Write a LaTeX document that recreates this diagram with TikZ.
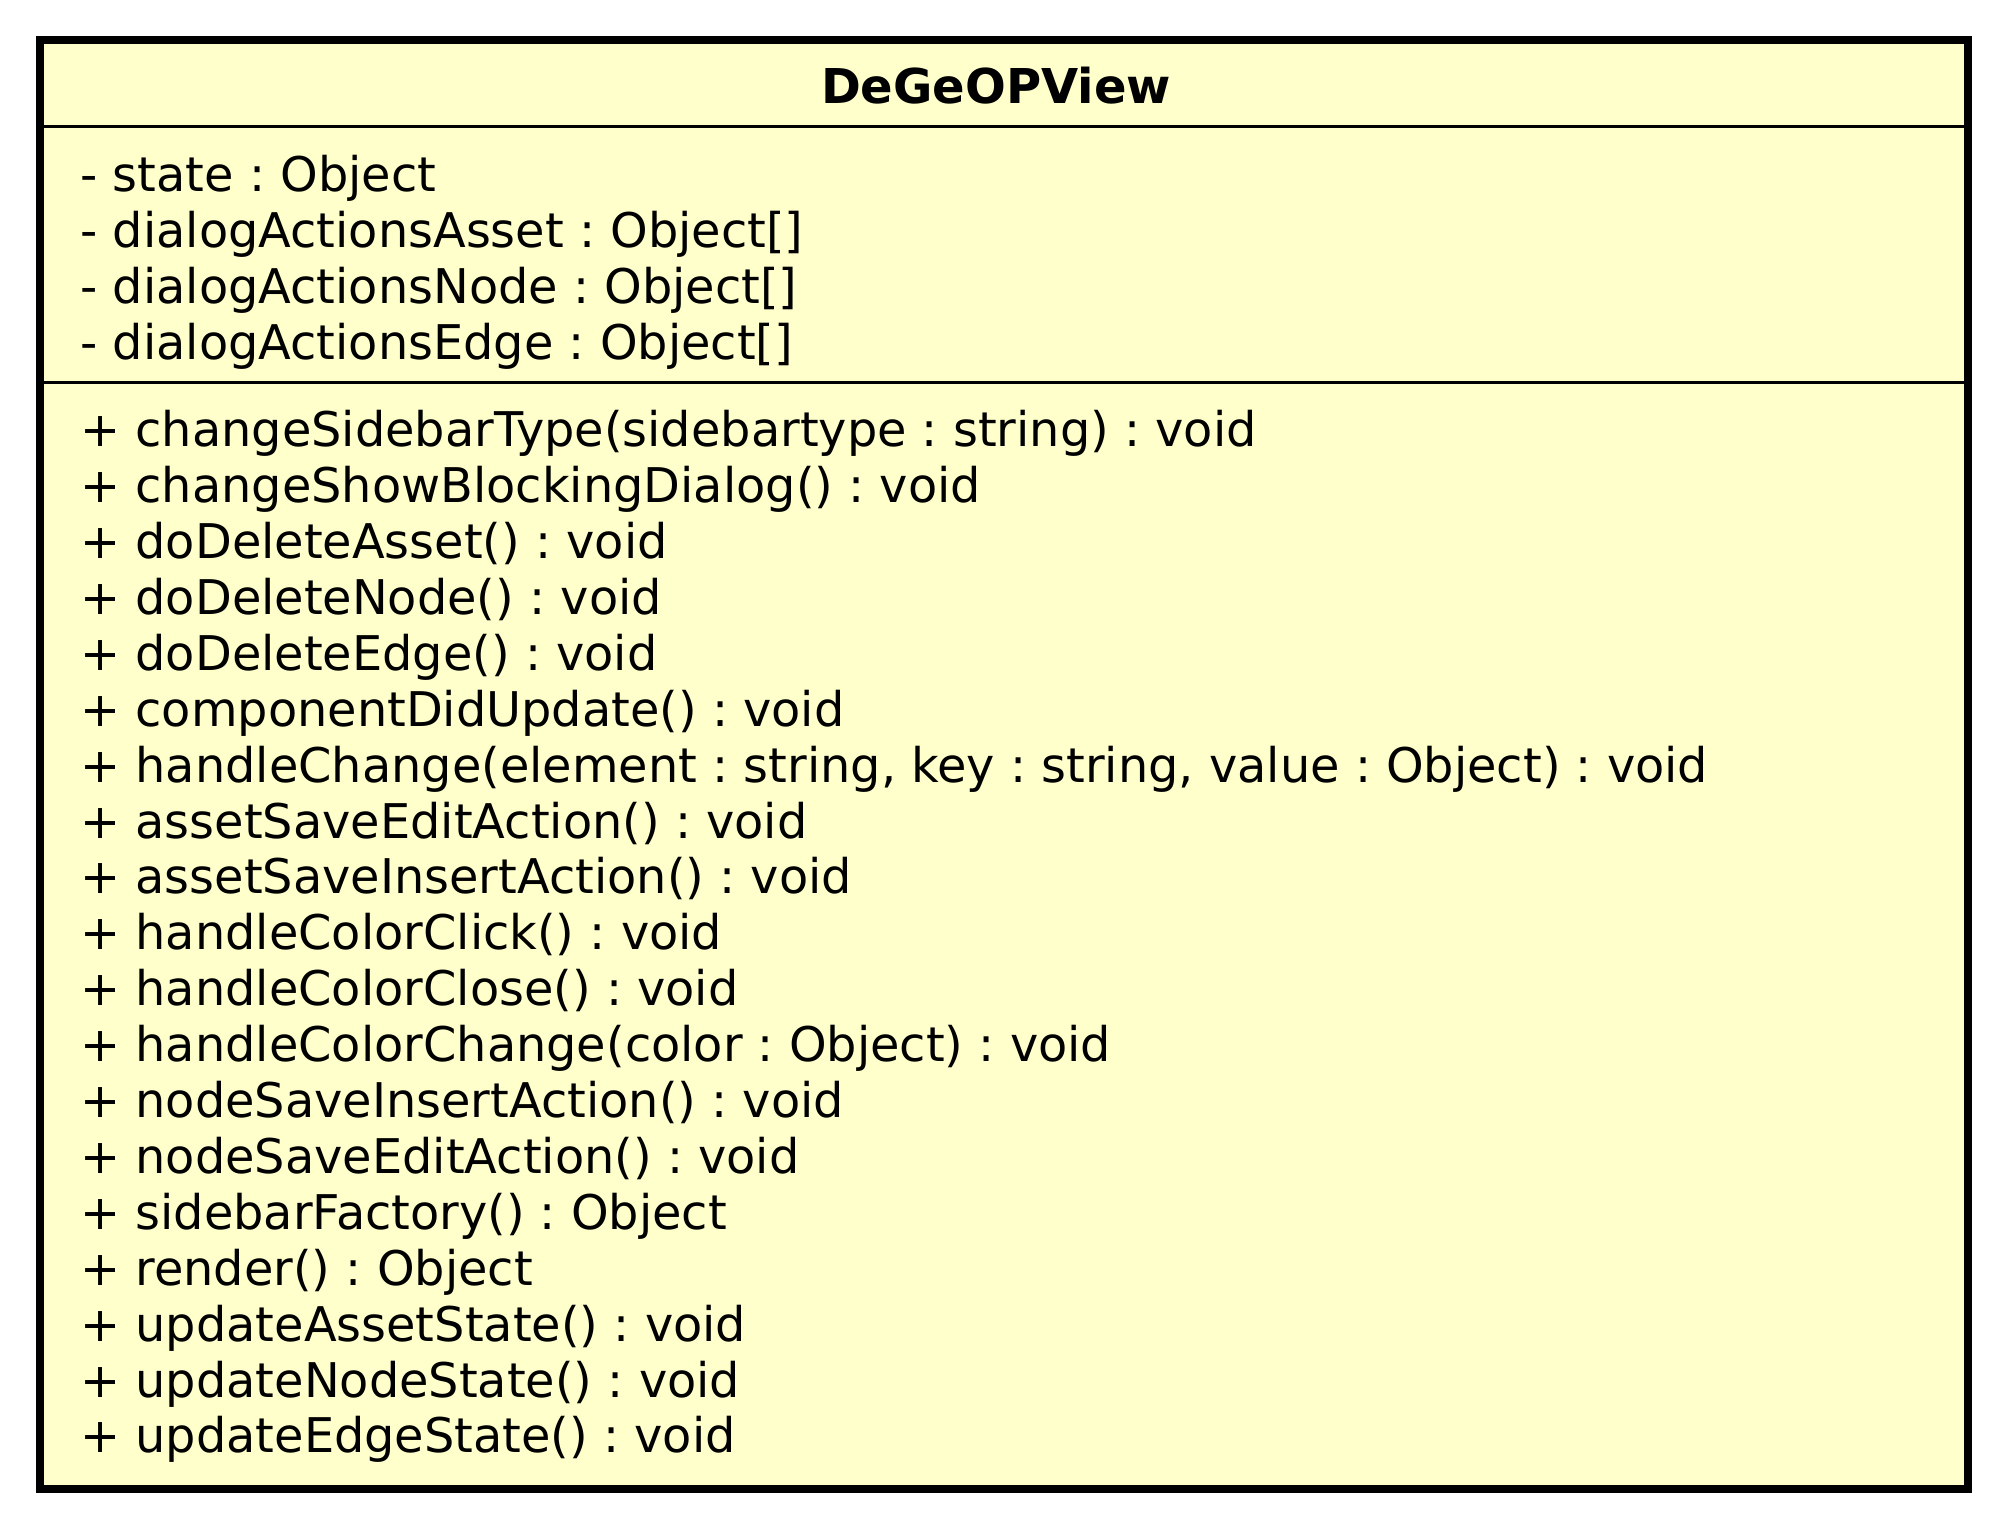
\documentclass[tikz,border=0pt]{standalone}
\usepackage{fontspec}
\setmainfont{DejaVu Sans}
\definecolor{classfill}{HTML}{FFFFCC}
\frenchspacing

\begin{document}
\begin{tikzpicture}[x=0.5pt,y=-0.5pt,
        classbox/.style={draw, line width=4pt, fill=classfill, inner sep=0pt,
                        minimum width=964pt, minimum height=724.5pt},
        sep/.style={line width=1.5pt},
        member/.style={anchor=base west, inner sep=0pt,
                        font=\fontsize{23.9}{28}\selectfont},
        classname/.style={anchor=base, inner sep=0pt,
                        font=\fontsize{24}{28}\selectfont\bfseries}]
    \useasboundingbox (0,0) rectangle (2008,1529);
    \node[classbox] (cls) at (1004,764.5) {};
    \coordinate (sepA) at (0,127);
    \coordinate (sepB) at (0,383);
    \draw[sep] (cls.west |- sepA) -- (cls.east |- sepA);
    \draw[sep] (cls.west |- sepB) -- (cls.east |- sepB);

    \node[classname] (name) at (996,104) {DeGeOPView};

    % attributes
    \foreach [count=\i] \t in {
        {- state : Object},
        {- dialogActionsAsset : Object[]},
        {- dialogActionsNode : Object[]},
        {- dialogActionsEdge : Object[]}
    }
        \node[member] (attr\i) at (80,{192+55.7*(\i-1)}) {\t};

    % operations
    \foreach [count=\i] \t in {
        {+ changeSidebarType(sidebartype : string) : void},
        {+ changeShowBlockingDialog() : void},
        {+ doDeleteAsset() : void},
        {+ doDeleteNode() : void},
        {+ doDeleteEdge() : void},
        {+ componentDidUpdate() : void},
        {+ handleChange(element : string, key : string, value : Object) : void},
        {+ assetSaveEditAction() : void},
        {+ assetSaveInsertAction() : void},
        {+ handleColorClick() : void},
        {+ handleColorClose() : void},
        {+ handleColorChange(color : Object) : void},
        {+ nodeSaveInsertAction() : void},
        {+ nodeSaveEditAction() : void},
        {+ sidebarFactory() : Object},
        {+ render() : Object},
        {+ updateAssetState() : void},
        {+ updateNodeState() : void},
        {+ updateEdgeState() : void}
    }
        \node[member] (op\i) at (80,{446.7+55.9*(\i-1)}) {\t};
\end{tikzpicture}
\end{document}
